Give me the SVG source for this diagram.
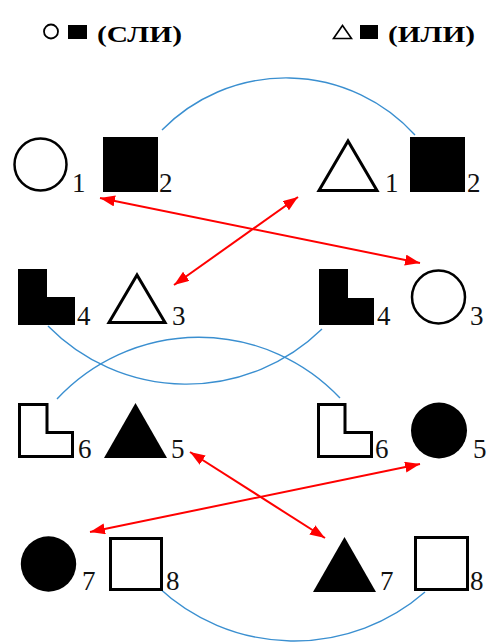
<svg xmlns="http://www.w3.org/2000/svg" width="487" height="642" viewBox="0 0 487 642">
<style>
.hdr{font-family:'Liberation Serif','DejaVu Serif',serif;font-weight:700;font-size:24px;fill:#000}
.lbl{font-family:'Liberation Serif','DejaVu Serif',serif;font-size:27px;fill:#111}
.open{fill:#fff;stroke:#000;stroke-width:3}
.fill{fill:#000;stroke:none}
.arc{fill:none;stroke:#3a8fd0;stroke-width:1.4}
.red{stroke:#ff0000;stroke-width:2;fill:none;marker-start:url(#ah);marker-end:url(#ah)}
</style>
<defs>
<marker id="ah" markerUnits="userSpaceOnUse" markerWidth="16" markerHeight="12" refX="15" refY="5.5" orient="auto-start-reverse">
<path d="M0,0 L15,5.5 L0,11 z" fill="#ff0000"/>
</marker>
</defs>
<rect width="487" height="642" fill="#fff"/>
<g id="header-left">
<circle cx="51" cy="31.5" r="7" fill="none" stroke="#000" stroke-width="1.8"/>
<rect x="68" y="25" width="19" height="14" class="fill"/>
<text class="hdr" x="97" y="42" textLength="85" lengthAdjust="spacingAndGlyphs">(СЛИ)</text>
</g>
<g id="header-right">
<polygon points="333.5,38.5 342.5,25.5 351.5,38.5" fill="none" stroke="#000" stroke-width="1.6"/>
<rect x="360" y="25" width="18" height="14" class="fill"/>
<text class="hdr" x="388" y="42" textLength="87" lengthAdjust="spacingAndGlyphs">(ИЛИ)</text>
</g>
<g id="connectors">
<path class="arc" d="M162,130 A174,174 0 0,1 415,135"/>
<path class="arc" d="M48,326 A194,194 0 0,0 322,329"/>
<path class="arc" d="M57,399 A194,194 0 0,1 340,398"/>
<path class="arc" d="M158,587 A199,199 0 0,0 425,592"/>
<line class="red" x1="100" y1="198" x2="420" y2="263"/>
<line class="red" x1="298" y1="197" x2="174" y2="285"/>
<line class="red" x1="190" y1="452" x2="325" y2="538"/>
<line class="red" x1="90" y1="532" x2="420" y2="464"/>
</g>
<g id="L-circle-1">
<circle cx="40.5" cy="164.5" r="26" fill="#fff" stroke="#000" stroke-width="2.5"/>
<text class="lbl" x="72" y="192">1</text>
</g>
<g id="L-square-2">
<rect x="103" y="137" width="55" height="55" class="fill"/>
<text class="lbl" x="159" y="192">2</text>
</g>
<g id="R-triangle-1">
<polygon class="open" points="319,190.5 348,141 377,190.5"/>
<text class="lbl" x="385" y="192">1</text>
</g>
<g id="R-square-2">
<rect x="410" y="137" width="55" height="55" class="fill"/>
<text class="lbl" x="467" y="192">2</text>
</g>
<g id="L-L-4">
<path class="fill" d="M18,269 H47 V297 H75 V325 H18 Z"/>
<text class="lbl" x="77" y="325">4</text>
</g>
<g id="L-triangle-3">
<polygon class="open" points="109,322.5 137,275 165,322.5"/>
<text class="lbl" x="172" y="325">3</text>
</g>
<g id="R-L-4">
<path class="fill" d="M319,269 H348 V298 H374 V325 H319 Z"/>
<text class="lbl" x="377" y="325">4</text>
</g>
<g id="R-circle-3">
<circle cx="438.5" cy="297" r="26.5" fill="#fff" stroke="#000" stroke-width="2.5"/>
<text class="lbl" x="470" y="325">3</text>
</g>
<g id="L-step-6">
<path class="open" d="M19.5,404.5 H47 V432.5 H72.5 V456.5 H19.5 Z"/>
<text class="lbl" x="78" y="458">6</text>
</g>
<g id="L-triangle-5">
<polygon class="fill" points="104,458 135.5,403 167,458"/>
<text class="lbl" x="171" y="458">5</text>
</g>
<g id="R-step-6">
<path class="open" d="M318.5,404.5 H345 V432.5 H371.5 V456.5 H318.5 Z"/>
<text class="lbl" x="375" y="458">6</text>
</g>
<g id="R-circle-5">
<circle cx="439" cy="430.5" r="28" class="fill"/>
<text class="lbl" x="473" y="458">5</text>
</g>
<g id="L-circle-7">
<circle cx="48.5" cy="564" r="27.7" class="fill"/>
<text class="lbl" x="82" y="590">7</text>
</g>
<g id="L-square-8">
<rect class="open" x="110.5" y="538.5" width="51" height="51"/>
<text class="lbl" x="166" y="590">8</text>
</g>
<g id="R-triangle-7">
<polygon class="fill" points="313,592 344.5,537 376,592"/>
<text class="lbl" x="380" y="590">7</text>
</g>
<g id="R-square-8">
<rect class="open" x="415.5" y="537.5" width="52" height="52"/>
<text class="lbl" x="470" y="590">8</text>
</g>
</svg>
